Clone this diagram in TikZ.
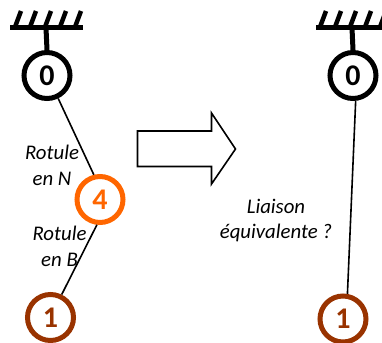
\documentclass[tikz,border=0pt]{standalone}
\usepackage{fontspec}
\setmainfont{Carlito}
\tikzset{
  x=1pt,y=-1pt,
  joint/.style={circle,draw=#1,text=#1,line width=5pt,minimum size=46pt,inner sep=0pt,font=\fontsize{30}{32}\selectfont\bfseries},
  lab/.style={align=center,inner sep=0pt,font=\fontsize{20.8}{25.5}\selectfont\itshape},
  bar/.style={draw=black,line width=5pt},
  hatch/.style={draw=black,line width=4.5pt},
  link/.style={draw=black,line width=1.6pt},
}
\definecolor{orng}{HTML}{FF6600}
\definecolor{brwn}{HTML}{993300}
\begin{document}
\begin{tikzpicture}
\useasboundingbox (0,0) rectangle (382,342);
% left ground
\draw[bar] (10,28) -- (83,28);
\foreach \u in {21,36,51,66,81} \draw[hatch] (\u,11) -- (\u-6,27);
\node[joint=black] (a0) at (47,75.5) {0};
\node[joint=orng] (a4) at (100,199.5) {4};
\node[joint=brwn] (a1) at (50.5,317.5) {1};
\coordinate (ga) at (46,28);
\draw[bar] (ga) -- (a0.north);
\draw[link] (a0.-64.5) -- (a4.104);
\draw[link] (a4.263) -- (a1.64.6);
% right ground
\draw[bar] (316,28) -- (382,28);
\foreach \u in {326,341,356,371,386} \draw[hatch] (\u,11) -- (\u-6,27);
\node[joint=black] (b0) at (353,75.5) {0};
\node[joint=brwn] (b1) at (343,319) {1};
\coordinate (gb) at (352,28);
\draw[bar] (gb) -- (b0.north);
\draw[link] (b0.-84) -- (b1.80);
% arrow
\path[draw=black,line width=1.6pt,line join=miter] (137.5,131) -- (211.5,131) -- (211.5,113) -- (235.5,149) -- (211.5,184) -- (211.5,166.5) -- (137.5,166.5) -- cycle;
% labels
\node[lab] (l1) at (52,165.5) {Rotule\\en N};
\node[lab] (l2) at (59.5,246.5) {Rotule\\en B};
\node[lab] (l3) at (276,220.5) {Liaison\\équivalente ?};
\end{tikzpicture}
\end{document}
